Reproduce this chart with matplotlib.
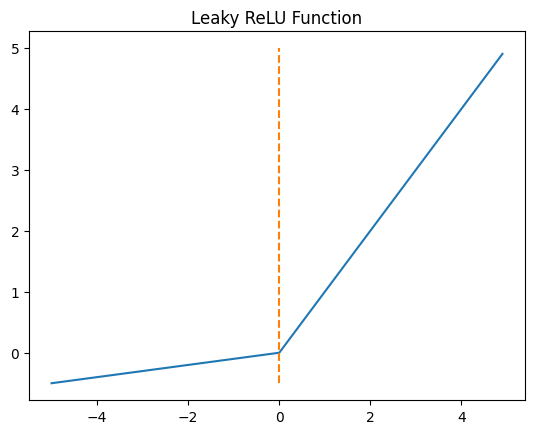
import numpy as np
import matplotlib.pyplot as plt

# points (curve breaks at 0)
x_vals = [-5.0, 0.0, 4.9]
y_vals = [-0.5, 0.0, 4.9]

# dashed marker at x = 0
vline_x = [0.0, 0.0]
vline_y = [-0.5, 5.0]

fig = plt.figure(figsize=(5.34, 4.35), dpi=100)
ax = fig.add_axes([29 / 534, 34 / 435, 496 / 534, 369 / 435])

ax.plot(x_vals, y_vals)
ax.plot(vline_x, vline_y, linestyle="--")
ax.set_title("Leaky ReLU Function")

fig.savefig("out.png", dpi=100)
plt.close("all")
